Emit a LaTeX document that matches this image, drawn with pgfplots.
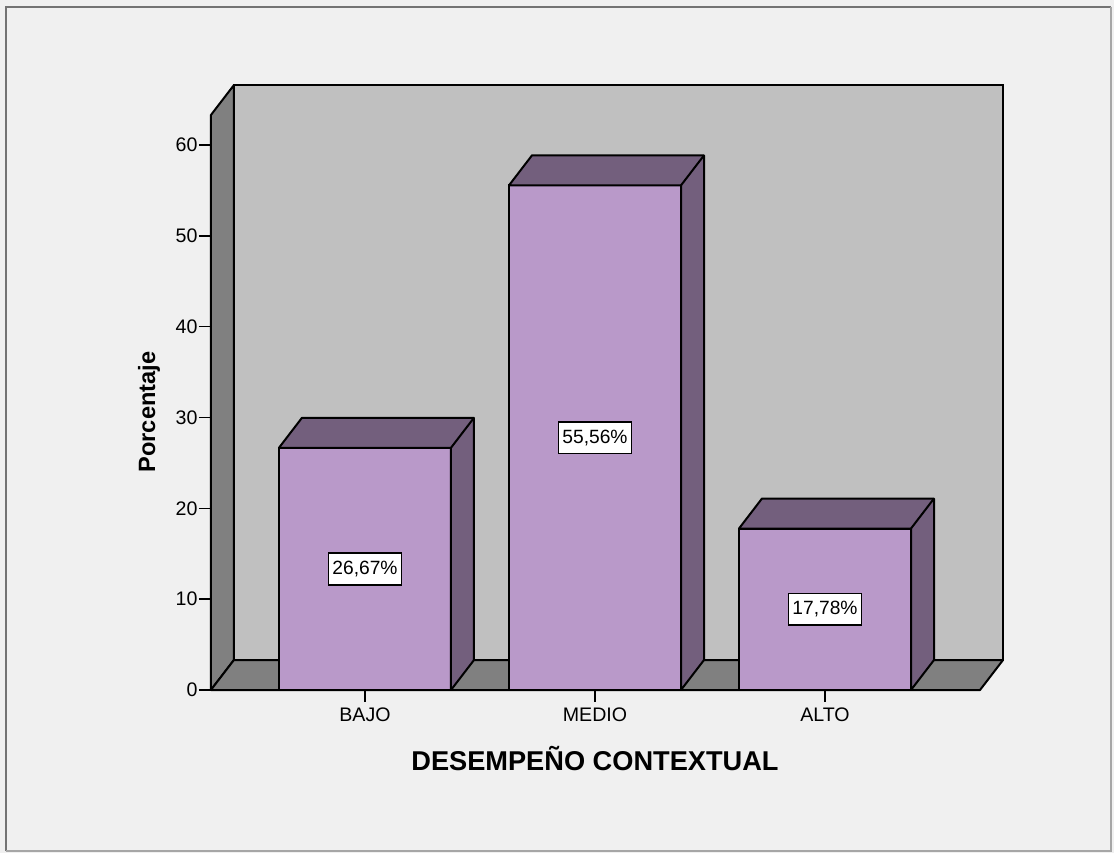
\documentclass[border=0pt]{standalone}
\usepackage{pgfplots}
\pgfplotsset{compat=1.18}
\usepackage{fontspec}
\setmainfont{Liberation Sans}
\definecolor{fondo}{HTML}{F0F0F0}
\definecolor{pared}{HTML}{C0C0C0}
\definecolor{lado}{HTML}{808080}
\definecolor{barra}{HTML}{B999C9}
\definecolor{barraosc}{HTML}{735F7D}
\begin{document}
\begin{tikzpicture}
\begin{axis}[
  x=115pt, y=4.5415pt,
  xmin=0.33, xmax=3.674, ymin=0, ymax=63.3,
  clip=false, axis on top,
  axis lines*=left,
  axis line style={draw=none},
  xtick={1,2,3}, xticklabels={BAJO,MEDIO,ALTO},
  ytick={0,10,...,60},
  tick pos=left,
  tick align=outside, major tick length=6pt,
  tick style={black, line width=0.8pt},
  tick label style={font=\fontsize{9.8}{11}\selectfont},
  yticklabel style={inner xsep=0.5pt},
  xticklabel style={inner ysep=2.5pt},
  /pgf/number format/assume math mode=true,
]
% fondo y marco
\fill[fondo] (axis cs:-0.58696,-17.946) rectangle (axis cs:4.25652,75.966);
\draw[color=black!55, line width=1pt] (axis cs:-0.5609,-17.725) -- (axis cs:-0.5609,75.195) -- (axis cs:4.2435,75.195);
\draw[color=black!35, line width=1pt] (axis cs:4.2435,75.195) -- (axis cs:4.2435,-17.725) -- (axis cs:-0.5609,-17.725);
% paredes y suelo
\filldraw[fill=pared, draw=black, line width=1pt] (axis cs:0.43,3.3) rectangle (axis cs:3.774,66.6);
\filldraw[fill=lado, draw=black, line width=1pt, line join=round]
  (axis cs:0.33,0) -- (axis cs:0.33,63.3) -- (axis cs:0.43,66.6) -- (axis cs:0.43,3.3) -- cycle;
\filldraw[fill=lado, draw=black, line width=1pt, line join=round]
  (axis cs:0.33,0) -- (axis cs:3.674,0) -- (axis cs:3.774,3.3) -- (axis cs:0.43,3.3) -- cycle;
% barras (cara frontal)
\addplot[ybar, bar width=0.748, fill=barra, draw=black, line width=1pt,
  visualization depends on={rawy \as \ry},
  nodes near coords={\pgfmathprintnumber[fixed,fixed zerofill,precision=2,use comma]{\pgfplotspointmeta}\%},
  nodes near coords style={anchor=center, yshift=-\ry*2.27075pt, fill=white, draw=black,
    line width=0.8pt, text=black, inner xsep=2pt, inner ysep=4pt,
    font=\fontsize{9.6}{11}\selectfont}
] coordinates {(1,26.67) (2,55.56) (3,17.78)};
% tapa y lado de cada barra
\addplot[scatter, only marks, mark=*, mark size=0pt, color=black,
  visualization depends on={rawy \as \ry},
  scatter/@pre marker code/.code={
    \filldraw[fill=barraosc, draw=black, line width=1pt, line join=round]
      (-43pt,0pt) -- (-31.5pt,15pt) -- (54.5pt,15pt) -- (54.5pt,{15pt-\ry*4.5415pt})
      -- (43pt,{-\ry*4.5415pt}) -- (43pt,0pt) -- cycle;
    \draw[black, line width=1pt] (43pt,0pt) -- (54.5pt,15pt);
  },
  scatter/@post marker code/.code={}
] coordinates {(1,26.67) (2,55.56) (3,17.78)};
% titulos de ejes
\node[anchor=base, font=\bfseries\fontsize{13.6}{16}\selectfont] at (axis cs:2,-8.81) {DESEMPEÑO CONTEXTUAL};
\node[rotate=90, anchor=base, font=\bfseries\fontsize{11.8}{14}\selectfont] at (axis cs:0.087,30.6) {Porcentaje};
\end{axis}
\end{tikzpicture}
\end{document}
